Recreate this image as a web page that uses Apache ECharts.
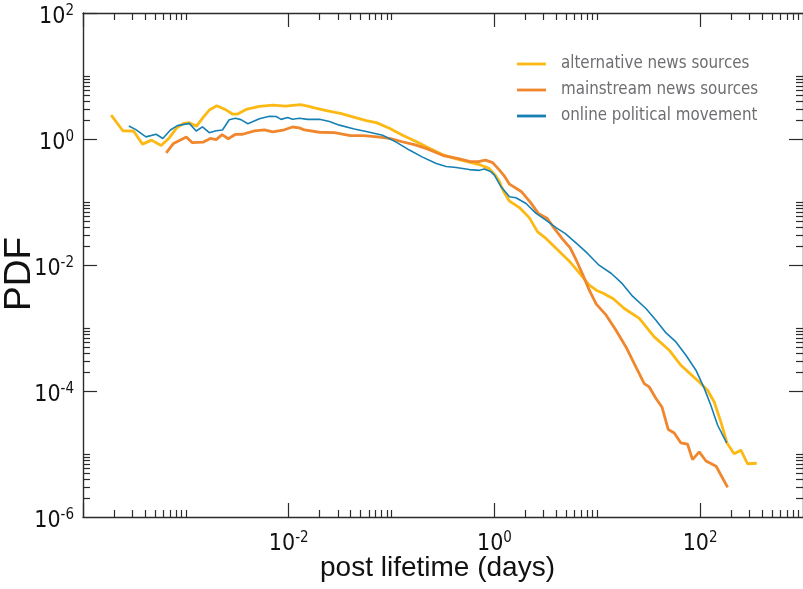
<!DOCTYPE html>
<html>
<head>
<meta charset="utf-8">
<script src="https://cdn.jsdelivr.net/npm/echarts@6/dist/echarts.min.js"></script>
<style>
html,body{margin:0;padding:0;background:#fff;}
#chart{width:803px;height:589px;}
</style>
</head>
<body>
<div id="chart"></div>
<script>
// ---- data ----
const seriesNames = ['alternative news sources', 'mainstream news sources', 'online political movement'];

const altX = [1.88e-4, 2.44e-4, 3.10e-4, 3.79e-4, 4.63e-4, 5.75e-4, 6.93e-4, 8.11e-4, 9.48e-4, 1.08e-3,
  1.27e-3, 1.48e-3, 1.69e-3, 2.00e-3, 2.47e-3, 2.84e-3, 3.19e-3, 3.85e-3, 5.19e-3, 7.00e-3,
  9.29e-3, 1.30e-2, 1.53e-2, 1.78e-2, 2.32e-2, 3.18e-2, 4.45e-2, 5.69e-2, 7.11e-2, 9.53e-2,
  0.128, 0.173, 0.233, 0.312, 0.424, 0.570, 0.713, 0.891, 1.02, 1.12,
  1.22, 1.40, 1.75, 2.18, 2.63, 3.17, 4.04, 5.35, 6.84, 8.36,
  9.78, 11.4, 14.3, 18.3, 25.6, 35.8, 50.1, 65.0, 78.3, 98.0,
  118, 137, 159, 183, 214, 249, 289, 355];
const altY = [2.40, 1.35, 1.34, 0.83, 0.96, 0.79, 1.05, 1.49, 1.77, 1.81,
  1.60, 2.23, 2.88, 3.36, 2.88, 2.49, 2.49, 2.95, 3.30, 3.46,
  3.33, 3.50, 3.33, 3.12, 2.82, 2.55, 2.19, 1.96, 1.82, 1.48,
  1.15, 0.91, 0.71, 0.566, 0.483, 0.430, 0.393, 0.339, 0.267, 0.209,
  0.149, 0.103, 0.0815, 0.0565, 0.0336, 0.0264, 0.0179, 0.0115, 0.00716, 0.00479,
  0.00398, 0.00357, 0.00292, 0.00204, 0.00142, 7.23e-4, 4.44e-4, 2.56e-4, 1.94e-4, 1.39e-4,
  1.03e-4, 6.70e-5, 3.23e-5, 1.48e-5, 1.01e-5, 1.15e-5, 7.00e-6, 7.13e-6];

const mainX = [6.44e-4, 7.59e-4, 1.01e-3, 1.15e-3, 1.48e-3, 1.73e-3, 1.97e-3, 2.25e-3, 2.58e-3, 3.02e-3,
  3.57e-3, 4.65e-3, 5.81e-3, 7.00e-3, 9.08e-3, 1.09e-2, 1.27e-2, 1.42e-2, 1.99e-2, 2.78e-2,
  3.98e-2, 5.32e-2, 7.28e-2, 9.53e-2, 0.127, 0.170, 0.223, 0.318, 0.436, 0.583,
  0.698, 0.817, 0.962, 1.12, 1.25, 1.40, 1.82, 2.23, 2.67, 3.27,
  3.82, 4.60, 5.47, 6.25, 7.19, 8.36, 9.78, 12.2, 15.2, 19.0,
  22.0, 28.6, 32.0, 37.2, 42.5, 49.0, 56.0, 65.0, 75.5, 84.3,
  98.0, 114, 143, 185];
const mainY = [0.604, 0.851, 1.08, 0.877, 0.893, 1.02, 0.979, 1.17, 1.01, 1.18,
  1.19, 1.35, 1.40, 1.30, 1.40, 1.55, 1.50, 1.39, 1.28, 1.26,
  1.13, 1.13, 1.08, 1.02, 0.904, 0.809, 0.697, 0.546, 0.492, 0.438,
  0.438, 0.462, 0.422, 0.321, 0.258, 0.192, 0.147, 0.0995, 0.0659, 0.0548,
  0.0380, 0.0257, 0.0185, 0.0119, 0.00716, 0.00398, 0.00239, 0.00160, 9.23e-4, 5.01e-4,
  3.08e-4, 1.31e-4, 1.16e-4, 7.59e-5, 5.58e-5, 2.44e-5, 2.16e-5, 1.50e-5, 1.43e-5, 8.16e-6,
  1.08e-5, 7.74e-6, 6.38e-6, 2.96e-6];

const onlineX = [2.79e-4, 3.24e-4, 4.09e-4, 5.14e-4, 5.97e-4, 7.08e-4, 8.28e-4, 1.08e-3, 1.26e-3, 1.45e-3,
  1.69e-3, 1.97e-3, 2.27e-3, 2.64e-3, 3.03e-3, 3.43e-3, 4.01e-3, 5.19e-3, 6.49e-3, 7.55e-3,
  8.43e-3, 9.77e-3, 1.09e-2, 1.27e-2, 1.52e-2, 1.99e-2, 2.49e-2, 3.11e-2, 4.34e-2, 5.82e-2,
  8.18e-2, 0.111, 0.149, 0.200, 0.272, 0.339, 0.424, 0.570, 0.713, 0.798,
  0.927, 1.00, 1.16, 1.40, 1.62, 2.03, 2.54, 3.17, 3.97, 4.89,
  6.40, 8.00, 10.4, 13.7, 17.5, 22.0, 29.7, 37.2, 46.6, 58.2,
  72.8, 91.0, 110, 127, 148, 181];
const onlineY = [1.61, 1.42, 1.08, 1.19, 1.02, 1.39, 1.63, 1.77, 1.34, 1.56,
  1.26, 1.35, 1.39, 2.02, 2.13, 2.03, 1.75, 2.09, 2.29, 2.27,
  2.05, 2.20, 2.06, 2.13, 2.05, 2.06, 1.89, 1.66, 1.44, 1.30,
  1.15, 0.893, 0.667, 0.516, 0.407, 0.365, 0.352, 0.327, 0.318, 0.333,
  0.301, 0.267, 0.174, 0.121, 0.117, 0.0948, 0.0659, 0.0515, 0.0392, 0.0315,
  0.0214, 0.0154, 0.00993, 0.00734, 0.00506, 0.00320, 0.00204, 0.00133, 8.36e-4, 6.01e-4,
  3.70e-4, 2.14e-4, 1.09e-4, 5.94e-5, 2.86e-5, 1.50e-5];

// ---- ticks ----
const xRange = [1e-4, 1e3];
const yRange = [1e-6, 1e2];
const xMajorTicks = [1e-4, 1e-2, 1, 1e2];
const xTickLabels = [1e-2, 1, 1e2];
const xMinorTicks = [2e-4, 3e-4, 4e-4, 5e-4, 6e-4, 7e-4, 8e-4, 9e-4, 1e-3,
  0.02, 0.03, 0.04, 0.05, 0.06, 0.07, 0.08, 0.09, 0.1,
  2, 3, 4, 5, 6, 7, 8, 9, 10,
  200, 300, 400, 500, 600, 700, 800, 900];
const yMajorTicks = [1e-4, 1e-2, 1, 1e2];
const yTickLabels = [1e-6, 1e-4, 1e-2, 1, 1e2];
const yMinorTicks = [2, 3, 4, 5, 6, 7, 8, 9, 10,
  0.02, 0.03, 0.04, 0.05, 0.06, 0.07, 0.08, 0.09, 0.1,
  2e-4, 3e-4, 4e-4, 5e-4, 6e-4, 7e-4, 8e-4, 9e-4, 1e-3,
  2e-6, 3e-6, 4e-6, 5e-6, 6e-6, 7e-6, 8e-6, 9e-6, 1e-5];

// ---- styling ----
const colors = ['#FDB913', '#F0872D', '#1680B4'];
const widths = [2.8, 2.8, 1.6];
const axisColor = '#2b2b2b';
const labelFont = "'Liberation Sans Narrow', 'DejaVu Sans Condensed', 'Liberation Sans', sans-serif";
const legendFont = "'DejaVu Sans Condensed', sans-serif";

function pow10Label(v) {
  const e = Math.round(Math.log10(v));
  return '10{s|' + e + '}';
}
const labelRich = {
  s: { fontSize: 15, fontFamily: labelFont, color: '#111', verticalAlign: 'top', padding: [0, 0, 11, 0] }
};

function pairs(xs, ys) { return xs.map((x, i) => [x, ys[i]]); }

function mkAxis(kind, pos, ticks, len, labels, showLine) {
  const range = kind === 'x' ? xRange : yRange;
  const ax = {
    type: 'log', logBase: 10, min: range[0], max: range[1], position: pos,
    axisLine: { show: showLine, onZero: false, lineStyle: { color: axisColor, width: 1.4 } },
    axisTick: { show: true, inside: true, length: len, customValues: ticks, lineStyle: { color: axisColor, width: 1.2 } },
    splitLine: { show: false },
    minorTick: { show: false },
    axisLabel: { show: false }
  };
  if (labels) {
    ax.axisLabel = {
      show: true, customValues: labels, formatter: pow10Label, rich: labelRich,
      fontSize: 23, fontFamily: labelFont, color: '#111',
      margin: kind === 'x' ? 14 : 9,
      padding: kind === 'x' ? 0 : [8, 0, 0, 0]
    };
  }
  return ax;
}

const chart = echarts.init(document.getElementById('chart'), null, { renderer: 'canvas' });
const option = {
  animation: false,
  backgroundColor: '#fff',
  grid: { left: 83, top: 13, width: 721, height: 504, containLabel: false },
  xAxis: [
    mkAxis('x', 'bottom', xMajorTicks, 14, xTickLabels, true),
    mkAxis('x', 'bottom', xMinorTicks, 7, null, false),
    mkAxis('x', 'top', xMajorTicks, 14, null, true),
    mkAxis('x', 'top', xMinorTicks, 7, null, false)
  ],
  yAxis: [
    mkAxis('y', 'left', yMajorTicks, 14, yTickLabels, true),
    mkAxis('y', 'left', yMinorTicks, 7, null, false),
    mkAxis('y', 'right', yMajorTicks, 14, null, true),
    mkAxis('y', 'right', yMinorTicks, 7, null, false)
  ],
  legend: {
    orient: 'vertical', left: 517, top: 52, padding: 0,
    itemWidth: 29, itemHeight: 2.8, itemGap: 2,
    data: seriesNames.map((n, i) => ({ name: n, icon: 'rect', itemStyle: { color: colors[i] } })),
    textStyle: { fontFamily: legendFont, fontSize: 16.8, color: '#6d6e71', lineHeight: 24, padding: [0, 0, 0, 10] }
  },
  series: [
    { name: seriesNames[0], type: 'line', data: pairs(altX, altY) },
    { name: seriesNames[1], type: 'line', data: pairs(mainX, mainY) },
    { name: seriesNames[2], type: 'line', data: pairs(onlineX, onlineY) }
  ].map((s, i) => Object.assign(s, {
    xAxisIndex: 0, yAxisIndex: 0, symbol: 'none', showSymbol: false, smooth: false,
    color: colors[i], lineStyle: { color: colors[i], width: widths[i] }, z: 2 + i
  })),
  graphic: [
    { type: 'text', x: 437.5, y: 582, style: { text: 'post lifetime (days)', fontSize: 28, fontFamily: "'Liberation Sans', sans-serif", fill: '#111', align: 'center', verticalAlign: 'bottom', textAlign: 'center', textVerticalAlign: 'bottom' } },
    { type: 'text', x: 20, y: 274, rotation: Math.PI / 2, style: { text: 'PDF', fontSize: 37, fontFamily: "'Liberation Sans', sans-serif", fill: '#111', align: 'center', verticalAlign: 'middle', textAlign: 'center', textVerticalAlign: 'middle' } }
  ]
};
chart.setOption(option);
</script>
</body>
</html>
